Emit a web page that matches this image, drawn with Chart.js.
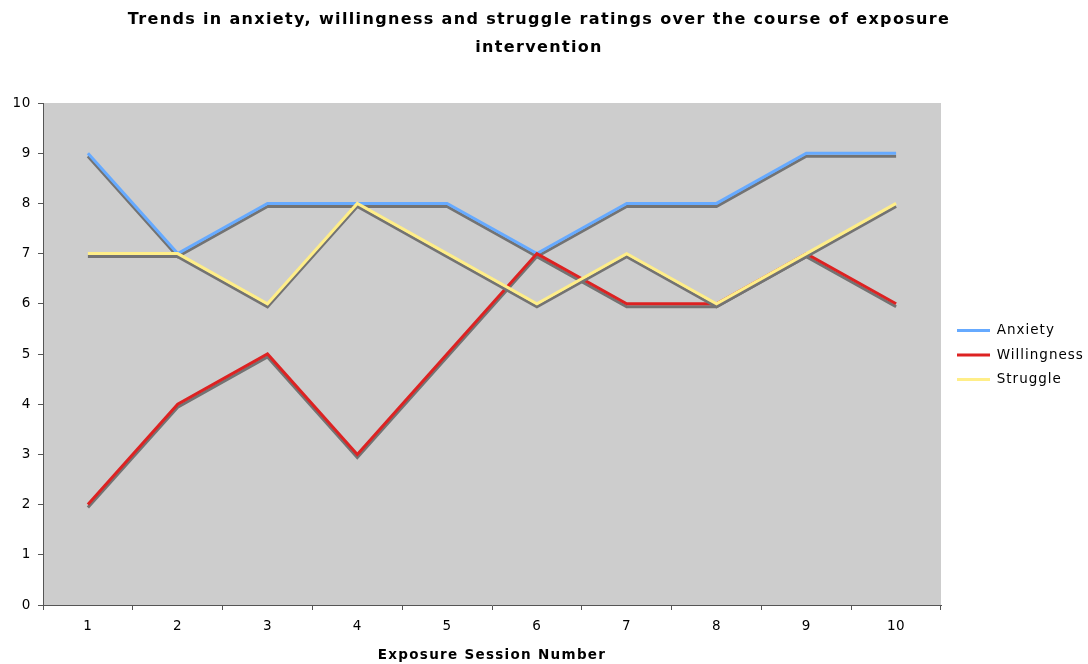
<!DOCTYPE html>
<html>
<head>
<meta charset="utf-8">
<script src="https://cdn.jsdelivr.net/npm/chart.js@4/dist/chart.umd.min.js"></script>
<style>
  html, body { margin: 0; padding: 0; background: #ffffff; }
  #wrap { width: 1088px; height: 664px; position: relative; }
</style>
</head>
<body>
<div id="wrap"><canvas id="c" width="1088" height="664"></canvas></div>
<script>
const sessions = ['1', '2', '3', '4', '5', '6', '7', '8', '9', '10'];
const anxiety = [9, 7, 8, 8, 8, 7, 8, 8, 9, 9];
const willingness = [2, 4, 5, 3, 5, 7, 6, 6, 7, 6];
const struggle = [7, 7, 6, 8, 7, 6, 7, 6, 7, 8];
const yTicks = [0, 1, 2, 3, 4, 5, 6, 7, 8, 9, 10];

const FONT = "'DejaVu Sans', Verdana, sans-serif";
const AXIS = '#555555';

function withSpacing(obj, name, spacing, dx, dy) {
  if (!obj || obj['__p_' + name]) return;
  const orig = obj[name].bind(obj);
  obj[name] = function (...args) {
    const c = this.ctx;
    c.save();
    if (dx || dy) c.translate(dx || 0, dy || 0);
    try { c.letterSpacing = spacing; } catch (e) {}
    const r = orig(...args);
    c.restore();
    return r;
  };
  obj['__p_' + name] = true;
}

const plotBg = {
  id: 'plotBg',
  beforeDraw(chart) {
    const { ctx, chartArea: a } = chart;
    ctx.save();
    ctx.fillStyle = '#cdcdcd';
    ctx.fillRect(a.left, a.top, a.right - a.left, a.bottom - a.top);
    ctx.restore();
  }
};

const lineShadow = {
  id: 'lineShadow',
  beforeDatasetDraw(chart) {
    const ctx = chart.ctx;
    ctx.save();
    ctx.shadowColor = 'rgba(115,115,115,1)';
    ctx.shadowOffsetX = 0;
    ctx.shadowOffsetY = 3;
    ctx.shadowBlur = 0;
  },
  afterDatasetDraw(chart) {
    chart.ctx.restore();
  }
};

const textTweak = {
  id: 'textTweak',
  afterInit(chart) {
    const lg = chart.legend;
    if (lg) {
      const of = lg.fit.bind(lg);
      lg.fit = function () { of(); this.width = 147; };
      withSpacing(lg, 'draw', '1px', 5, 23);
    }
    withSpacing(chart.titleBlock, 'draw', '1.35px', -5, 1);
  },
  afterUpdate(chart) {
    const x = chart.scales.x, y = chart.scales.y;
    withSpacing(x, 'drawTitle', '1.3px');
    withSpacing(x, 'drawLabels', '0.6px');
    withSpacing(y, 'drawLabels', '0.6px');
  }
};

new Chart(document.getElementById('c'), {
  type: 'line',
  data: {
    labels: sessions,
    datasets: [
      { label: 'Anxiety', data: anxiety, borderColor: '#66aaff', backgroundColor: '#66aaff', order: 2 },
      { label: 'Willingness', data: willingness, borderColor: '#dd2222', backgroundColor: '#dd2222', order: 1 },
      { label: 'Struggle', data: struggle, borderColor: '#ffee88', backgroundColor: '#ffee88', order: 0 }
    ]
  },
  options: {
    responsive: false,
    animation: false,
    devicePixelRatio: 1,
    layout: { padding: { left: 0, right: 0, top: 0, bottom: 0 } },
    elements: {
      line: { borderWidth: 3, tension: 0, fill: false, borderJoinStyle: 'miter', borderCapStyle: 'butt' },
      point: { radius: 0, hoverRadius: 0 }
    },
    plugins: {
      title: {
        display: true,
        text: ['Trends in anxiety, willingness and struggle ratings over the course of exposure', 'intervention'],
        color: '#000000',
        font: { family: FONT, size: 16, weight: 'bold', lineHeight: 1.75 },
        padding: { top: 5, bottom: 42 }
      },
      legend: {
        position: 'right',
        align: 'center',
        labels: {
          color: '#000000',
          font: { family: FONT, size: 13.5 },
          boxWidth: 33,
          boxHeight: 3,
          padding: 11,
          sort: (a, b) => a.datasetIndex - b.datasetIndex,
          generateLabels(chart) {
            return chart.data.datasets.map((ds, i) => ({
              text: ds.label,
              fillStyle: ds.borderColor,
              strokeStyle: ds.borderColor,
              lineWidth: 0,
              datasetIndex: i,
              hidden: false
            }));
          }
        }
      },
      tooltip: { enabled: false }
    },
    scales: {
      x: {
        type: 'category',
        offset: true,
        afterFit(s) { s.height = 59; },
        border: { display: true, color: AXIS, width: 1 },
        grid: { display: true, offset: true, drawOnChartArea: false, drawTicks: true, tickLength: 5, color: AXIS },
        ticks: { color: '#000000', font: { family: FONT, size: 13.5 }, padding: 8, maxRotation: 0 },
        title: {
          display: true,
          text: 'Exposure Session Number',
          color: '#000000',
          font: { family: FONT, size: 13.5, weight: 'bold' },
          padding: { top: 0, bottom: 0 }
        }
      },
      y: {
        min: 0,
        max: 10,
        afterFit(s) { s.width = 43; },
        afterBuildTicks(s) { s.ticks = yTicks.map(v => ({ value: v })); },
        border: { display: true, color: AXIS, width: 1 },
        grid: { display: true, drawOnChartArea: false, drawTicks: true, tickLength: 5, color: AXIS },
        ticks: { color: '#000000', font: { family: FONT, size: 13.5 }, padding: 7, stepSize: 1 }
      }
    }
  },
  plugins: [plotBg, lineShadow, textTweak]
});
</script>
</body>
</html>
